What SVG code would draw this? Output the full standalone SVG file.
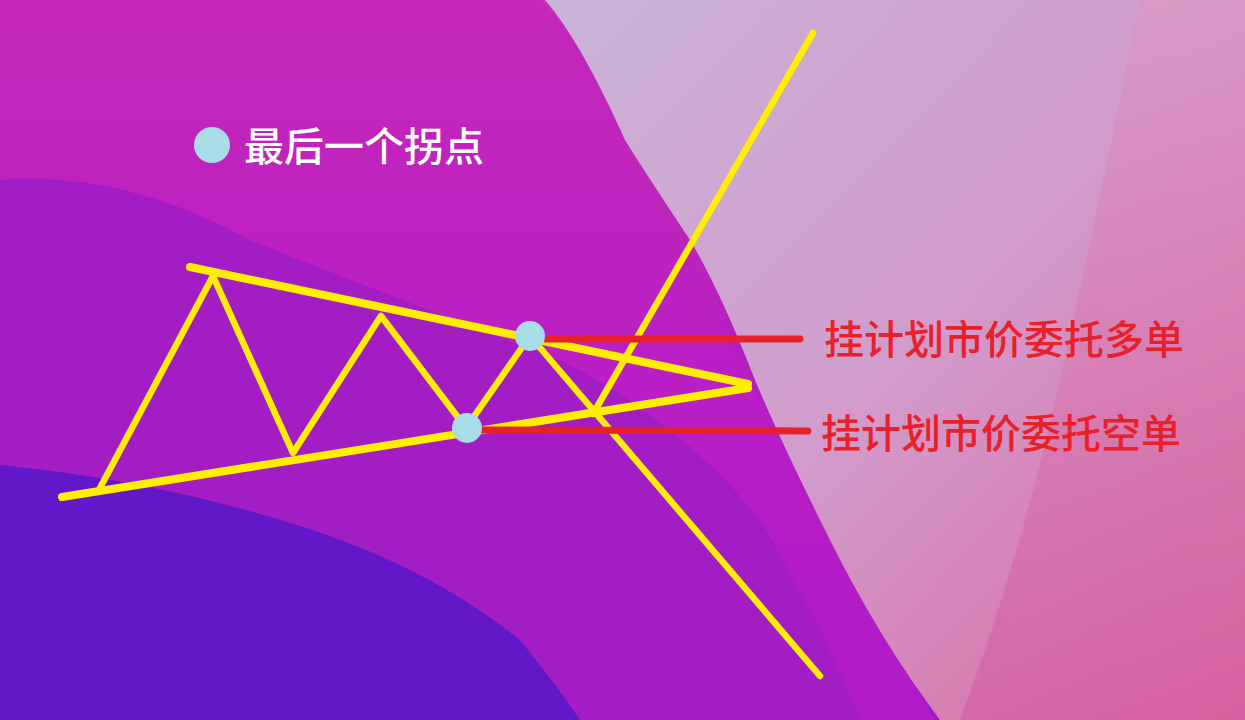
<svg xmlns="http://www.w3.org/2000/svg" width="1245" height="720" viewBox="0 0 1245 720">
<defs>
<linearGradient id="bg" x1="0" y1="0" x2="0" y2="1">
<stop offset="0" stop-color="#c92fae"/>
<stop offset="0.5" stop-color="#b41fc4"/>
<stop offset="1" stop-color="#a018cc"/>
</linearGradient>
<linearGradient id="light" x1="0" y1="0" x2="1" y2="1">
<stop offset="0" stop-color="#c9b4d8"/>
<stop offset="0.5" stop-color="#d29ccb"/>
<stop offset="1" stop-color="#d8689e"/>
</linearGradient>
<linearGradient id="pink" x1="0" y1="0" x2="0" y2="1">
<stop offset="0" stop-color="#dc95c0"/>
<stop offset="1" stop-color="#d45a9e"/>
</linearGradient>
<style>
.y{stroke:#ffee00;stroke-width:6.5;stroke-linecap:round;stroke-linejoin:round;fill:none}
.yt{stroke:#ffee00;stroke-width:8;stroke-linecap:round;fill:none}
.r{stroke:#e8202a;stroke-width:7;stroke-linecap:round}
.dot{fill:#a8dde8}
.lbl{font-family:"Noto Sans CJK SC","Noto Sans",sans-serif;font-size:40px;font-weight:500}
</style>
</defs>
<g id="background">
<rect width="1245" height="720" fill="url(#bg)"/>
<path d="M0,0 L540,0 Q600,60 630,160 Q700,280 760,400 Q840,560 935,720 L0,720 Z" fill="#c020c4" opacity="0.5"/>
<path d="M0,180 Q120,170 250,240 Q400,300 560,360 Q680,420 760,520 Q820,620 860,720 L0,720 Z" fill="#a21dc4"/>
<path d="M0,465 Q150,480 280,520 Q420,560 520,640 Q560,690 580,720 L0,720 Z" fill="#6218c8"/>
<path d="M545,0 L1245,0 L1245,720 L940,720 Q880,640 830,540 Q780,440 755,380 Q720,290 690,240 Q650,180 625,140 Q580,40 545,0 Z" fill="url(#light)"/>
<path d="M1140,0 L1245,0 L1245,720 L960,720 Q1020,560 1060,380 Q1100,200 1140,0 Z" fill="url(#pink)" opacity="0.6"/>
</g>
<g id="connectors">
<line class="yt" x1="190" y1="267" x2="748" y2="384"/>
<line class="yt" x1="62" y1="497" x2="748" y2="388"/>
<polyline class="y" points="100,488 213,276 293,453 381,316 466,428 530,336 820,676"/>
<line class="y" x1="593" y1="414" x2="813" y2="33"/>
<line class="r" x1="545" y1="339" x2="800" y2="339"/>
<line class="r" x1="480" y1="430" x2="808" y2="431"/>
</g>
<g id="node-upper-pivot"><circle class="dot" cx="530" cy="336" r="15"/></g>
<g id="node-lower-pivot"><circle class="dot" cx="467" cy="428" r="15"/></g>
<g id="legend">
<circle class="dot" cx="212" cy="145" r="18"/>
<text class="lbl" x="244" y="161" fill="#ffffff">最后一个拐点</text>
</g>
<g id="label-long"><text class="lbl" x="824" y="354" fill="#e8202a">挂计划市价委托多单</text></g>
<g id="label-short"><text class="lbl" x="821" y="448" fill="#e8202a">挂计划市价委托空单</text></g>
</svg>
